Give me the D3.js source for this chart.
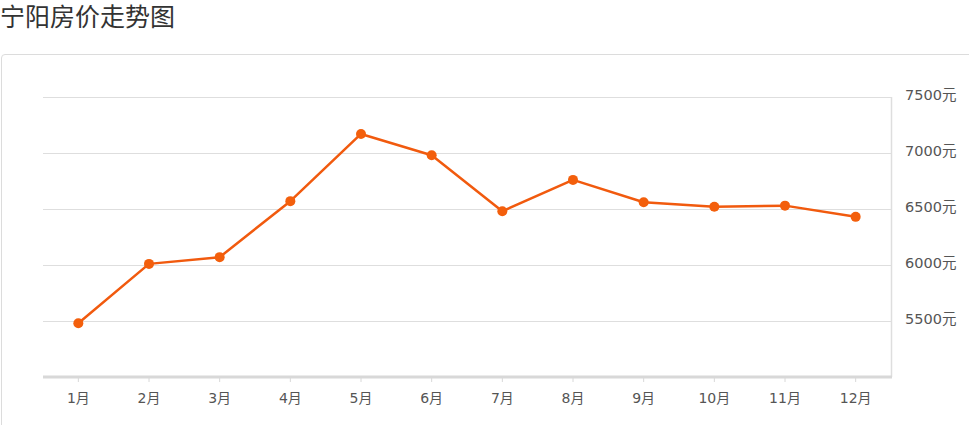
<!DOCTYPE html>
<html>
<head>
<meta charset="utf-8">
<script src="https://cdn.jsdelivr.net/npm/d3@7"></script>
<style>
  html, body { margin: 0; padding: 0; background: #fff; }
  body { width: 969px; height: 425px; overflow: hidden; position: relative; font-family: "Noto Sans CJK SC", sans-serif; }
  .title { position: absolute; left: 0; top: 0; font-size: 25px; line-height: 30px; color: #333; font-family: "Noto Sans CJK SC", sans-serif; white-space: nowrap; }
  .card { position: absolute; left: 1px; top: 54px; width: 990px; height: 420px; border: 1px solid #dcdcdc; border-radius: 4px; box-sizing: border-box; }
  svg { position: absolute; left: 0; top: 0; }
</style>
</head>
<body>
<div class="title">宁阳房价走势图</div>
<div class="card"></div>
<svg id="chart" width="969" height="425"></svg>
<script>
const months = ["1月","2月","3月","4月","5月","6月","7月","8月","9月","10月","11月","12月"];
const prices = [5480, 6010, 6070, 6570, 7170, 6980, 6480, 6760, 6560, 6520, 6530, 6430];
const yTicks = [5500, 6000, 6500, 7000, 7500];
const unit = "元";

(function () {
const svg = d3.select("#chart");
const mLeft = 43, mRight = 891, mTop = 97, mBottom = 377;
const labelFont = "\"DejaVu Sans\", \"Noto Sans CJK SC\", sans-serif";

const x = d3.scaleBand().domain(months).range([mLeft, mRight]);
const y = d3.scaleLinear().domain([5000, 7500]).range([mBottom, mTop]);

// grid lines
svg.append("g").selectAll("line").data(yTicks).join("line")
  .attr("x1", mLeft).attr("x2", mRight)
  .attr("y1", d => Math.round(y(d)) + 0.5).attr("y2", d => Math.round(y(d)) + 0.5)
  .attr("stroke", "#dedede").attr("stroke-width", 1);

// right vertical line
svg.append("line")
  .attr("x1", mRight + 0.5).attr("x2", mRight + 0.5)
  .attr("y1", mTop).attr("y2", mBottom)
  .attr("stroke", "#dedede").attr("stroke-width", 1.5);

// y axis labels on right
const yAxis = d3.axisRight(y).tickValues(yTicks).tickSize(0).tickPadding(0)
  .tickFormat(d => d + unit);
const gy = svg.append("g").attr("transform", `translate(${mRight + 14},-2)`).call(yAxis);
gy.select(".domain").remove();
gy.selectAll("text").attr("fill", "#555").attr("font-size", 14.5)
  .attr("font-family", labelFont);

// x axis
const xAxis = d3.axisBottom(x).tickSize(5).tickPadding(11);
const gx = svg.append("g").attr("transform", `translate(0,${mBottom})`).call(xAxis);
gx.select(".domain").attr("stroke", "#d8d8d8").attr("stroke-width", 3)
  .attr("d", `M${mLeft},0H${mRight + 1}`);
gx.selectAll(".tick line").attr("stroke", "#d8d8d8");
gx.selectAll("text").attr("fill", "#555").attr("font-size", 14)
  .attr("font-family", labelFont);

const cx = d => x(d) + x.bandwidth() / 2;
const data = months.map((m, i) => ({ m, v: prices[i] }));

svg.append("path").datum(data)
  .attr("fill", "none").attr("stroke", "#f15a0e").attr("stroke-width", 2.5)
  .attr("stroke-linejoin", "round")
  .attr("d", d3.line().x(d => cx(d.m)).y(d => y(d.v)));

svg.append("g").selectAll("circle").data(data).join("circle")
  .attr("cx", d => cx(d.m)).attr("cy", d => y(d.v)).attr("r", 5)
  .attr("fill", "#f35f0c");
})();
</script>
</body>
</html>
